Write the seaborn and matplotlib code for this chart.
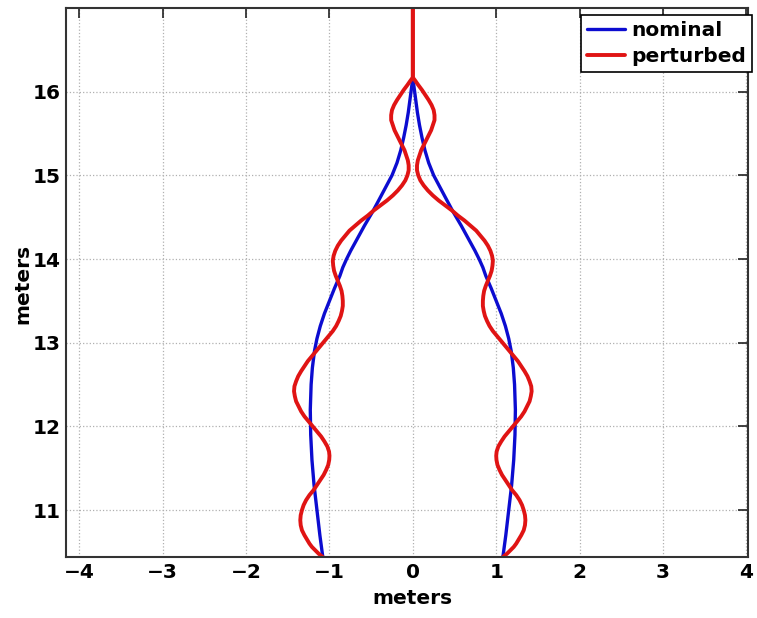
import pandas as pd
import matplotlib
matplotlib.use("Agg")
import matplotlib.pyplot as plt
import seaborn as sns

sns.set_style("white")
plt.rcParams['font.family'] = ['DejaVu Sans']
plt.rcParams['font.weight'] = 'bold'
plt.rcParams['text.color'] = 'black'
plt.rcParams['axes.labelcolor'] = 'black'

# right-hand branch of each path (left branch is the mirror image)
nominal_y = [10.44, 10.7, 11.0, 11.3, 11.6, 11.9, 12.2, 12.5, 12.7, 12.9,
             13.05, 13.2, 13.35, 13.5, 13.65, 13.8, 13.9, 14.0, 14.1, 14.2,
             14.4, 14.57, 14.7, 14.85, 15.0, 15.15, 15.3, 15.45, 15.6, 15.75,
             15.9, 16.05, 16.17]
nominal_x = [1.08, 1.115, 1.15, 1.185, 1.21, 1.225, 1.23, 1.22, 1.205, 1.18,
             1.15, 1.11, 1.06, 1.00, 0.94, 0.875, 0.84, 0.795, 0.745, 0.69,
             0.58, 0.48, 0.41, 0.33, 0.25, 0.19, 0.145, 0.11, 0.08, 0.055,
             0.035, 0.015, 0.0]

perturbed_y = [10.44, 10.48, 10.52, 10.56, 10.6, 10.65, 10.7, 10.76, 10.82, 10.88,
               10.94, 11.0, 11.06, 11.12, 11.18, 11.24, 11.3, 11.36, 11.42, 11.48,
               11.54, 11.6, 11.65, 11.7, 11.76, 11.82, 11.88, 11.94, 12.0, 12.06,
               12.12, 12.18, 12.24, 12.3, 12.36, 12.42, 12.48, 12.54, 12.6, 12.66,
               12.72, 12.78, 12.84, 12.9, 12.96, 13.02, 13.08, 13.14, 13.2, 13.26,
               13.32, 13.38, 13.44, 13.5, 13.56, 13.62, 13.68, 13.74, 13.8, 13.86,
               13.92, 13.98, 14.04, 14.1, 14.16, 14.22, 14.28, 14.34, 14.4, 14.46,
               14.52, 14.58, 14.64, 14.7, 14.76, 14.82, 14.88, 14.94, 15.0, 15.06,
               15.12, 15.18, 15.24, 15.3, 15.36, 15.42, 15.48, 15.54, 15.6, 15.66,
               15.72, 15.78, 15.84, 15.9, 15.96, 16.02, 16.08, 16.13, 16.17, 17.0]
perturbed_x = [1.08, 1.13, 1.17, 1.21, 1.24, 1.27, 1.30, 1.33, 1.345, 1.35,
               1.345, 1.33, 1.31, 1.28, 1.24, 1.19, 1.15, 1.11, 1.07, 1.04,
               1.015, 1.003, 1.0, 1.005, 1.025, 1.06, 1.10, 1.15, 1.20, 1.25,
               1.30, 1.34, 1.37, 1.40, 1.415, 1.425, 1.42, 1.40, 1.375, 1.34,
               1.30, 1.26, 1.21, 1.16, 1.11, 1.06, 1.01, 0.96, 0.92, 0.89,
               0.865, 0.85, 0.84, 0.84, 0.845, 0.855, 0.875, 0.90, 0.925, 0.945,
               0.955, 0.96, 0.95, 0.93, 0.90, 0.86, 0.81, 0.76, 0.69, 0.62,
               0.54, 0.47, 0.39, 0.31, 0.24, 0.18, 0.13, 0.09, 0.065, 0.05,
               0.05, 0.06, 0.08, 0.10, 0.13, 0.16, 0.19, 0.22, 0.24, 0.26,
               0.26, 0.25, 0.225, 0.19, 0.15, 0.11, 0.065, 0.03, 0.0, 0.0]

x_ticks = [-4, -3, -2, -1, 0, 1, 2, 3, 4]
y_ticks = [11, 12, 13, 14, 15, 16]

rows = []
for name, xs, ys in [('nominal', nominal_x, nominal_y), ('perturbed', perturbed_x, perturbed_y)]:
    for side, sign in [('left', -1), ('right', 1)]:
        for i, (xv, yv) in enumerate(zip(xs, ys)):
            rows.append({'series': name, 'branch': side, 'order': i, 'x': sign * xv, 'y': yv})
df = pd.DataFrame(rows)

colors = {'nominal': '#0c0cd0', 'perturbed': '#e01414'}
widths = {'nominal': 2.4, 'perturbed': 2.8}

fig = plt.figure(figsize=(7.57, 6.18), dpi=100)
ax = fig.add_axes([66 / 757, 1 - 557 / 618, 682 / 757, 549 / 618])

for name in ['nominal', 'perturbed']:
    for side in ['left', 'right']:
        sub = df[(df['series'] == name) & (df['branch'] == side)].sort_values('order')
        sns.lineplot(data=sub, x='x', y='y', sort=False, estimator=None, ax=ax,
                     color=colors[name], linewidth=widths[name],
                     solid_joinstyle='round', solid_capstyle='round',
                     label=name if side == 'right' else None)

ax.set_xlim(-4.16, 4.02)
ax.set_ylim(10.44, 17.0)
ax.set_xticks(x_ticks)
ax.set_yticks(y_ticks)
ax.set_xticklabels([str(t).replace('-', '\u2212') for t in x_ticks])
ax.grid(True, linestyle=':', color='#b0b0b0', linewidth=0.9)
ax.tick_params(direction='in', length=7.5, width=1.2, top=True, right=True,
               labelsize=14.5, pad=4, colors='#222222', labelcolor='black')
for lab in ax.get_xticklabels() + ax.get_yticklabels():
    lab.set_fontweight('bold')
for sp in ax.spines.values():
    sp.set_color('#333333')
    sp.set_linewidth(1.5)

ax.set_xlabel('meters', fontsize=14.5, fontweight='bold', color='black')
ax.set_ylabel('meters', fontsize=14.5, fontweight='bold', color='black')
ax.xaxis.set_label_coords(0.508, -0.058)
ax.yaxis.set_label_coords(-0.05, 0.497)

leg = ax.legend(loc='upper right', bbox_to_anchor=(1.006, 0.987), borderaxespad=0,
                fancybox=False, frameon=True, edgecolor='black', framealpha=1,
                prop={'size': 14.5, 'weight': 'bold'}, handlelength=1.9,
                handletextpad=0.3, labelspacing=0.35, borderpad=0.3)
leg.get_frame().set_linewidth(1.2)
for t in leg.get_texts():
    t.set_color('black')

fig.savefig('out.png', dpi=100)
